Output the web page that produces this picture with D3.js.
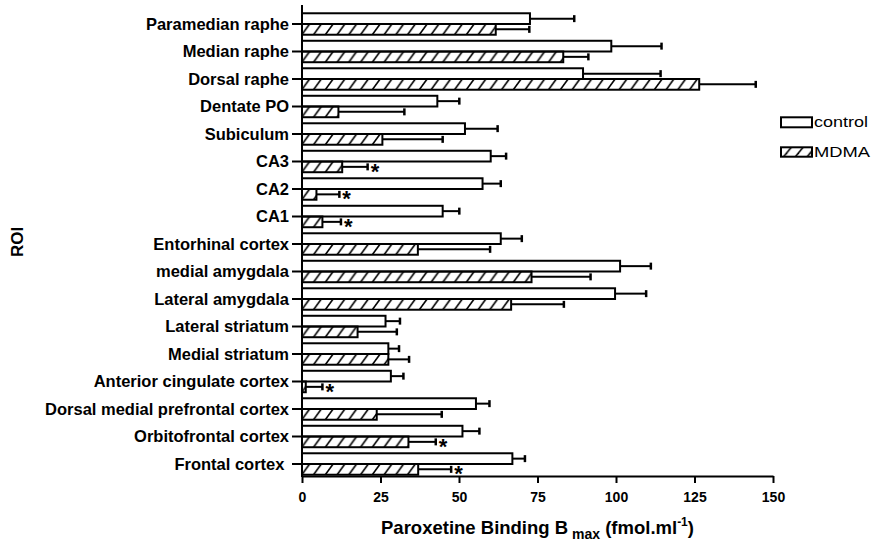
<!DOCTYPE html>
<html>
<head>
<meta charset="utf-8">
<script src="https://cdn.jsdelivr.net/npm/d3@7"></script>
<style>
  html, body { margin: 0; padding: 0; background: #fff; }
  svg { display: block; font-family: Arial, "Liberation Sans", sans-serif; }
</style>
</head>
<body>
<svg id="chart" width="882" height="544"></svg>
<script>
// Regions of interest, top to bottom
const regions = [
  "Paramedian raphe", "Median raphe", "Dorsal raphe", "Dentate PO", "Subiculum",
  "CA3", "CA2", "CA1", "Entorhinal cortex", "medial amygdala", "Lateral amygdala",
  "Lateral striatum", "Medial striatum", "Anterior cingulate cortex",
  "Dorsal medial prefrontal cortex", "Orbitofrontal cortex", "Frontal cortex "
];
// Bmax means and SEM (fmol/ml)
const controlMean = [72.6, 98.5, 89.5, 43.1, 51.9, 60.1, 57.5, 44.8, 63.3, 101.3, 99.7, 26.6, 27.5, 28.3, 55.4, 51.1, 67.0];
const controlSem  = [14.1, 16.0, 24.7, 7.0, 10.4, 4.9, 5.8, 5.3, 6.7, 9.8, 9.9, 4.6, 3.4, 4.0, 4.3, 5.4, 4.0];
const mdmaMean    = [61.7, 83.2, 126.5, 11.6, 25.6, 12.8, 4.6, 6.5, 36.9, 73.1, 66.6, 17.7, 27.5, 1.2, 23.8, 33.9, 37.0];
const mdmaSem     = [10.7, 8.0, 18.0, 21.0, 19.2, 8.1, 7.3, 5.9, 23.0, 18.8, 16.8, 12.5, 6.6, 5.3, 20.7, 8.7, 10.5];
// MDMA significantly different from control
const significant = [0, 0, 0, 0, 0, 1, 1, 1, 0, 0, 0, 0, 0, 1, 0, 1, 1];
const groups = ["control", "MDMA"];
const xTicks = [0, 25, 50, 75, 100, 125, 150];

const svg = d3.select("#chart");
const x0 = 302, x1 = 773, axisY = 476;

const x = d3.scaleLinear().domain([0, 150]).range([x0, x1]);
const y = d3.scaleBand().domain(regions).range([10.25, 477.75]).paddingInner(0.22).paddingOuter(0.11);
const sub = d3.scaleBand().domain(groups).range([0, y.bandwidth()]);

const rows = regions.map((r, i) => ({
  region: r,
  bars: [
    { group: "control", mean: controlMean[i], sem: controlSem[i], sig: false },
    { group: "MDMA", mean: mdmaMean[i], sem: mdmaSem[i], sig: !!significant[i] }
  ]
}));

// Hatch patterns: diagonal "/" strokes
const defs = svg.append("defs");
function hatch(id, top, h) {
  const p = defs.append("pattern").attr("id", id)
    .attr("patternUnits", "userSpaceOnUse")
    .attr("x", 0).attr("y", top)
    .attr("width", 11.75).attr("height", 60);
  for (const dx of [0, 11.75]) {
    p.append("line")
      .attr("x1", dx - 4).attr("y1", h + 0.5)
      .attr("x2", dx + 4.5).attr("y2", -0.5)
      .attr("stroke", "#000").attr("stroke-width", 1.6);
  }
}
// Row groups are translated, so the bar pattern lives in row-local coordinates
hatch("hatch", sub("MDMA"), sub.bandwidth());

// Bars
const g = svg.append("g");
const rowG = g.selectAll("g.row").data(rows).join("g")
  .attr("class", "row")
  .attr("transform", d => `translate(0,${y(d.region)})`);

const barG = rowG.selectAll("g.bar").data(d => d.bars).join("g").attr("class", "bar");

barG.append("rect")
  .attr("x", x(0))
  .attr("y", d => sub(d.group))
  .attr("width", d => x(d.mean) - x(0))
  .attr("height", sub.bandwidth())
  .attr("fill", d => d.group === "MDMA" ? "url(#hatch)" : "#fff")
  .attr("stroke", "#000").attr("stroke-width", 2);

// Error bars (upper side only)
barG.append("line")
  .attr("x1", d => x(d.mean)).attr("x2", d => x(d.mean + d.sem))
  .attr("y1", d => sub(d.group) + sub.bandwidth() / 2)
  .attr("y2", d => sub(d.group) + sub.bandwidth() / 2)
  .attr("stroke", "#000").attr("stroke-width", 2);
barG.append("line")
  .attr("x1", d => x(d.mean + d.sem)).attr("x2", d => x(d.mean + d.sem))
  .attr("y1", d => sub(d.group) + sub.bandwidth() / 2 - 3.5)
  .attr("y2", d => sub(d.group) + sub.bandwidth() / 2 + 3.5)
  .attr("stroke", "#000").attr("stroke-width", 2.5);

// Significance markers
barG.filter(d => d.sig).append("text")
  .attr("x", d => x(d.mean + d.sem) + 3)
  .attr("y", d => sub(d.group) + sub.bandwidth() / 2 + 12)
  .attr("font-size", 22).attr("font-weight", "bold")
  .text("*");

// Y axis
const yAxis = svg.append("g").attr("transform", `translate(${x0},0)`)
  .call(d3.axisLeft(y).tickSize(10).tickPadding(3).tickSizeOuter(0));
yAxis.select(".domain").remove();
yAxis.selectAll(".tick line").attr("stroke-width", 2);
yAxis.selectAll(".tick text")
  .attr("font-size", 16.5).attr("font-weight", "bold").attr("fill", "#000")
  .attr("font-family", "Arial, 'Liberation Sans', sans-serif")
  .attr("dy", "0.36em").style("white-space", "pre");
svg.append("line").attr("x1", x0).attr("x2", x0).attr("y1", 5).attr("y2", axisY + 1)
  .attr("stroke", "#000").attr("stroke-width", 2);

// X axis
const xAxis = svg.append("g").attr("transform", `translate(0,${axisY})`)
  .call(d3.axisBottom(x).tickValues(xTicks).tickSize(7).tickPadding(9).tickSizeOuter(0));
xAxis.select(".domain").attr("stroke-width", 2);
xAxis.selectAll(".tick line").attr("stroke-width", 2);
xAxis.selectAll(".tick text")
  .attr("font-size", 14).attr("font-weight", "bold").attr("fill", "#000")
  .attr("font-family", "Arial, 'Liberation Sans', sans-serif");

// Axis titles
const xt = svg.append("text")
  .attr("x", (x0 + x1) / 2).attr("y", 534)
  .attr("text-anchor", "middle")
  .attr("font-size", 18.5).attr("font-weight", "bold");
xt.append("tspan").text("Paroxetine Binding B");
xt.append("tspan").attr("font-size", 14).attr("dy", 5).text("\u00a0max");
xt.append("tspan").attr("dy", -5).text(" (fmol.ml");
xt.append("tspan").attr("font-size", 12).attr("dy", -8).text("-1");
xt.append("tspan").attr("dy", 8).text(")");

svg.append("text")
  .attr("transform", "translate(23,242) rotate(-90)")
  .attr("text-anchor", "middle")
  .attr("font-size", 17).attr("font-weight", "bold")
  .text("ROI");

// Legend
hatch("hatchLegend", 147.3, 9.4);
const legend = svg.append("g");
const legendItems = [
  { group: "control", top: 117.3, h: 10, fill: "#fff", len: 54 },
  { group: "MDMA", top: 147.3, h: 9.4, fill: "url(#hatchLegend)", len: 56 }
];
legend.selectAll("rect").data(legendItems).join("rect")
  .attr("x", 781).attr("y", d => d.top).attr("width", 31).attr("height", d => d.h)
  .attr("fill", d => d.fill).attr("stroke", "#000").attr("stroke-width", 2);
legend.selectAll("text").data(legendItems).join("text")
  .attr("x", 814).attr("y", d => d.top + d.h)
  .attr("font-size", 15)
  .attr("textLength", d => d.len).attr("lengthAdjust", "spacingAndGlyphs")
  .text(d => d.group);
</script>
</body>
</html>
